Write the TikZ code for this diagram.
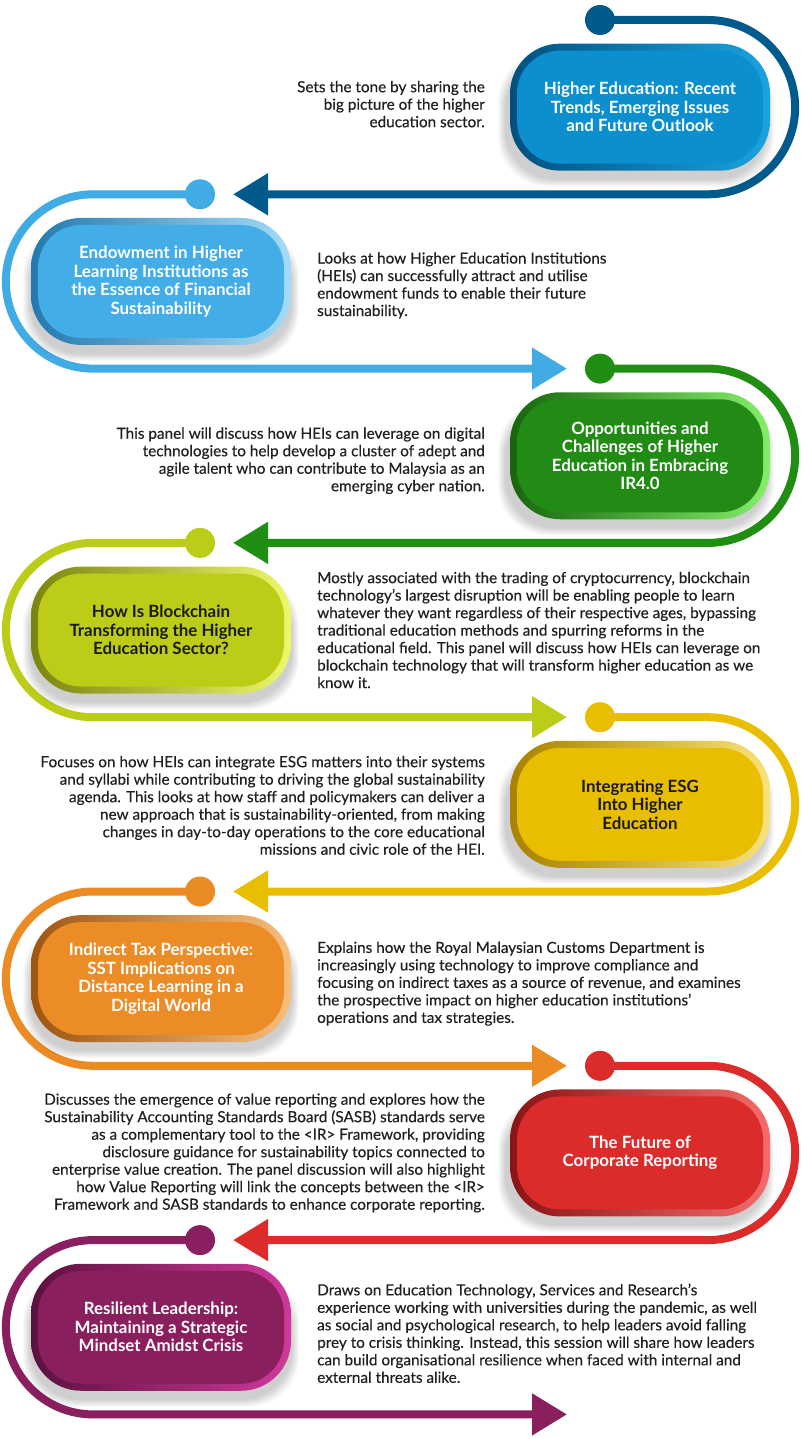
\documentclass[tikz,border=0pt]{standalone}
\usepackage{fontspec}
\setmainfont{Lato}
\newfontfamily\bodyfont{Lato}[FakeBold=0.35]
\usetikzlibrary{arrows.meta}
\definecolor{bodytext}{HTML}{231F20}
\definecolor{titledark}{HTML}{1A1A1A}
% section colours: line, fill, dark border, light border
\definecolor{dbline}{HTML}{005B8C}\definecolor{dbfill}{HTML}{0B8FCE}\definecolor{dbdark}{HTML}{00507E}\definecolor{dblight}{HTML}{1BA3E0}
\definecolor{lbline}{HTML}{41ACE4}\definecolor{lbfill}{HTML}{42ADE6}\definecolor{lbdark}{HTML}{2379AE}\definecolor{lblight}{HTML}{A5DBF7}
\definecolor{grline}{HTML}{1F8E12}\definecolor{grfill}{HTML}{218B16}\definecolor{grdark}{HTML}{17650E}\definecolor{grlight}{HTML}{86EE6A}
\definecolor{ygline}{HTML}{BCCD19}\definecolor{ygfill}{HTML}{BDCC16}\definecolor{ygdark}{HTML}{7A850E}\definecolor{yglight}{HTML}{EEF76C}
\definecolor{yeline}{HTML}{E9BE00}\definecolor{yefill}{HTML}{E9BD00}\definecolor{yedark}{HTML}{A88200}\definecolor{yelight}{HTML}{F8E27A}
\definecolor{orline}{HTML}{EA8B24}\definecolor{orfill}{HTML}{EB8C26}\definecolor{ordark}{HTML}{9E5512}\definecolor{orlight}{HTML}{F8BE7C}
\definecolor{rdline}{HTML}{DC2B2B}\definecolor{rdfill}{HTML}{DB2B2B}\definecolor{rddark}{HTML}{8A1414}\definecolor{rdlight}{HTML}{F56B6B}
\definecolor{puline}{HTML}{8A1F5F}\definecolor{pufill}{HTML}{8A1F5E}\definecolor{pudark}{HTML}{5C1040}\definecolor{pulight}{HTML}{D0399A}
\tikzset{
  bodynode/.style={font=\bodyfont\fontsize{15.3}{17.5}\selectfont, text=bodytext, inner sep=0pt},
  titlenode/.style={font=\bfseries\fontsize{16.9}{18.5}\selectfont, align=center, inner sep=0pt},
  dotnode/.style={circle, minimum size=30pt, inner sep=0pt, draw=none},
  flow/.style={line width=8pt, -{Triangle[length=35pt,width=40pt]}},
}
% #1 index, #2 colour key, #3 title colour, #4 title, #5 body text, #6 text offset (down)
\newcommand\RightSection[6]{%
  \pgfmathsetmacro\Yt{-(20+174.3*#1)}%
  \pgfmathsetmacro\Yb{\Yt-174.3}%
  \pgfmathsetmacro\Ym{\Yt-87.15}%
  \node[dotnode,fill=#2line] (dot#1) at (600,\Yt) {};
  \coordinate (tip#1) at (233,\Yb);
  \draw[flow,draw=#2line] (dot#1.center) -- (708,\Yt) arc[start angle=90,end angle=-90,radius=87.15pt] -- (tip#1);
  \foreach \s in {1,...,8}{\fill[black,opacity=0.022,rounded corners=50pt]
     (510-4-\s,\Ym+55+\s-8) rectangle (770-4+\s,\Ym-63.5-\s-8);}
  \shade[left color=#2dark,right color=#2light,rounded corners=50pt] (510,\Ym+63.5) rectangle (770,\Ym-63.5);
  \fill[#2fill,rounded corners=43pt] (517,\Ym+56.5) rectangle (763,\Ym-56.5);
  \node[titlenode,text=#3] (title#1) at (640,\Ym) {#4};
  \node[bodynode,anchor=east,align=right] (text#1) at (485,\Ym-#6) {#5};
}
\newcommand\LeftSection[6]{%
  \pgfmathsetmacro\Yt{-(20+174.3*#1)}%
  \pgfmathsetmacro\Yb{\Yt-174.3}%
  \pgfmathsetmacro\Ym{\Yt-87.15}%
  \node[dotnode,fill=#2line] (dot#1) at (200,\Yt) {};
  \coordinate (tip#1) at (567,\Yb);
  \draw[flow,draw=#2line] (dot#1.center) -- (93,\Yt) arc[start angle=90,end angle=270,radius=87.15pt] -- (tip#1);
  \foreach \s in {1,...,8}{\fill[black,opacity=0.022,rounded corners=50pt]
     (31-\s,\Ym+55+\s-8) rectangle (291+\s,\Ym-63.5-\s-8);}
  \shade[left color=#2dark,right color=#2light,rounded corners=50pt] (31,\Ym+63.5) rectangle (291,\Ym-63.5);
  \fill[#2fill,rounded corners=43pt] (38,\Ym+56.5) rectangle (284,\Ym-56.5);
  \node[titlenode,text=#3] (title#1) at (161,\Ym) {#4};
  \node[bodynode,anchor=west,align=left] (text#1) at (317,\Ym-#6) {#5};
}
\begin{document}
\begin{tikzpicture}[x=1pt,y=1pt]
\useasboundingbox (0,0) rectangle (800,-1439);
\fill[white] (0,0) rectangle (800,-1439);
\RightSection{0}{db}{white}{Higher Education: Recent\\Trends, Emerging Issues\\and Future Outlook}
  {Sets the tone by sharing the\\big picture of the higher\\education sector.}{-3}
\LeftSection{1}{lb}{white}{Endowment in Higher\\Learning Institutions as\\the Essence of Financial\\Sustainability}
  {Looks at how Higher Education Institutions\\(HEIs) can successfully attract and utilise\\endowment funds to enable their future\\sustainability.}{4}
\RightSection{2}{gr}{white}{Opportunities and\\Challenges of Higher\\Education in Embracing\\IR4.0}
  {This panel will discuss how HEIs can leverage on digital\\technologies to help develop a cluster of adept and\\agile talent who can contribute to Malaysia as an\\emerging cyber nation.}{5}
\LeftSection{3}{yg}{titledark}{How Is Blockchain\\Transforming the Higher\\Education Sector?}
  {Mostly associated with the trading of cryptocurrency, blockchain\\technology’s largest disruption will be enabling people to learn\\whatever they want regardless of their respective ages, bypassing\\traditional education methods and spurring reforms in the\\educational field. This panel will discuss how HEIs can leverage on\\blockchain technology that will transform higher education as we\\know it.}{0}
\RightSection{4}{ye}{titledark}{Integrating ESG\\Into Higher\\Education}
  {Focuses on how HEIs can integrate ESG matters into their systems\\and syllabi while contributing to driving the global sustainability\\agenda. This looks at how staff and policymakers can deliver a\\new approach that is sustainability-oriented, from making\\changes in day-to-day operations to the core educational\\missions and civic role of the HEI.}{1}
\LeftSection{5}{or}{white}{Indirect Tax Perspective:\\SST Implications on\\Distance Learning in a\\Digital World}
  {Explains how the Royal Malaysian Customs Department is\\increasingly using technology to improve compliance and\\focusing on indirect taxes as a source of revenue, and examines\\the prospective impact on higher education institutions’\\operations and tax strategies.}{5}
\RightSection{6}{rd}{white}{The Future of\\Corporate Reporting}
  {Discusses the emergence of value reporting and explores how the\\Sustainability Accounting Standards Board (SASB) standards serve\\as a complementary tool to the <IR> Framework, providing\\disclosure guidance for sustainability topics connected to\\enterprise value creation. The panel discussion will also highlight\\how Value Reporting will link the concepts between the <IR>\\Framework and SASB standards to enhance corporate reporting.}{0}
\LeftSection{7}{pu}{white}{Resilient Leadership:\\Maintaining a Strategic\\Mindset Amidst Crisis}
  {Draws on Education Technology, Services and Research’s\\experience working with universities during the pandemic, as well\\as social and psychological research, to help leaders avoid falling\\prey to crisis thinking. Instead, this session will share how leaders\\can build organisational resilience when faced with internal and\\external threats alike.}{6}
\end{tikzpicture}
\end{document}
